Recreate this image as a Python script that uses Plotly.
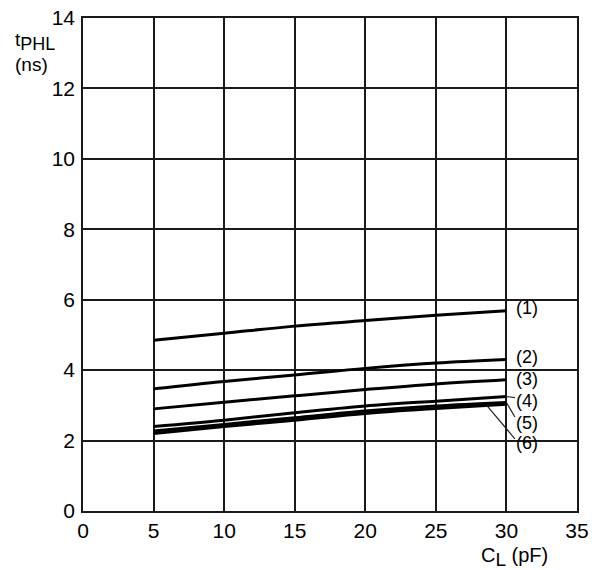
import numpy as np
import plotly.graph_objects as go

# Data
cl_pf = [5, 10, 15, 20, 25, 30]
series_names = ["(1)", "(2)", "(3)", "(4)", "(5)", "(6)"]
t1 = [4.85, 5.05, 5.25, 5.41, 5.56, 5.69]
t2 = [3.47, 3.68, 3.86, 4.05, 4.20, 4.30]
t3 = [2.90, 3.09, 3.27, 3.45, 3.61, 3.73]
t4 = [2.40, 2.58, 2.79, 2.98, 3.12, 3.25]
t5 = [2.27, 2.46, 2.65, 2.84, 2.98, 3.08]
t6 = [2.20, 2.40, 2.58, 2.77, 2.91, 3.03]
all_series = [t1, t2, t3, t4, t5, t6]

x_ticks = [0, 5, 10, 15, 20, 25, 30, 35]
y_ticks = [0, 2, 4, 6, 8, 10, 12, 14]

# label placement (data coordinates) for the curve tags
label_y = [5.77, 4.38, 3.75, 3.13, 2.50, 1.93]
label_x = 30.55
leader_from_x = [None, None, None, 30, 30, 28.6]
leader_to_y = [None, None, None, 3.22, 2.67, 2.05]

fig = go.Figure()
for name, ys in zip(series_names, all_series):
    fig.add_trace(go.Scatter(x=cl_pf, y=ys, mode="lines", name=name,
                             line=dict(color="black", width=3, shape="spline"),
                             showlegend=False, hoverinfo="skip"))

font = "Liberation Sans, Arial, sans-serif"
annotations = []
shapes = []
for name, ys, ly, lx0, ly1 in zip(series_names, all_series, label_y, leader_from_x, leader_to_y):
    if lx0 is not None:
        y0 = float(np.interp(lx0, cl_pf, ys))
        shapes.append(dict(type="line", xref="x", yref="y", x0=lx0, y0=y0,
                           x1=label_x + 0.05, y1=ly1,
                           line=dict(color="#222", width=1.2)))
    annotations.append(dict(x=label_x, y=ly, xref="x", yref="y", text=name,
                            showarrow=False, xanchor="left", yanchor="middle",
                            font=dict(family=font, size=18, color="black")))

annotations.append(dict(x=-0.142, y=0.931, xref="paper", yref="paper",
                        text="t<sub><span style='font-size:18px'>PHL</span></sub><br>(ns)",
                        showarrow=False, xanchor="left", yanchor="middle", align="left",
                        font=dict(family=font, size=19, color="black")))
annotations.append(dict(x=0.874, y=-0.093, xref="paper", yref="paper",
                        text="C<sub><span style='font-size:19px'>L</span></sub> (pF)",
                        showarrow=False, xanchor="center", yanchor="middle",
                        font=dict(family=font, size=20, color="black")))

axis_common = dict(showgrid=True, gridcolor="#1a1a1a", gridwidth=1.6,
                   showline=True, linecolor="#1a1a1a", linewidth=1.6, mirror=True,
                   zeroline=False, ticks="", automargin=False, ticklabeloverflow="allow",
                   tickfont=dict(family=font, size=21, color="black"))

fig.update_layout(
    width=592, height=570,
    margin=dict(l=83, r=15, t=18, b=59),
    paper_bgcolor="white", plot_bgcolor="white",
    xaxis=dict(range=[0, 35], tickvals=x_ticks, **axis_common),
    yaxis=dict(range=[0, 14], tickvals=y_ticks, ticklabelstandoff=2, **axis_common),
    annotations=annotations,
    shapes=shapes,
)

# remove the default page margin so the figure fills the window exactly
fig.write_html("out.html",
               config={"displayModeBar": False},
               post_script="document.body.style.margin='0';document.body.style.overflow='hidden';")
